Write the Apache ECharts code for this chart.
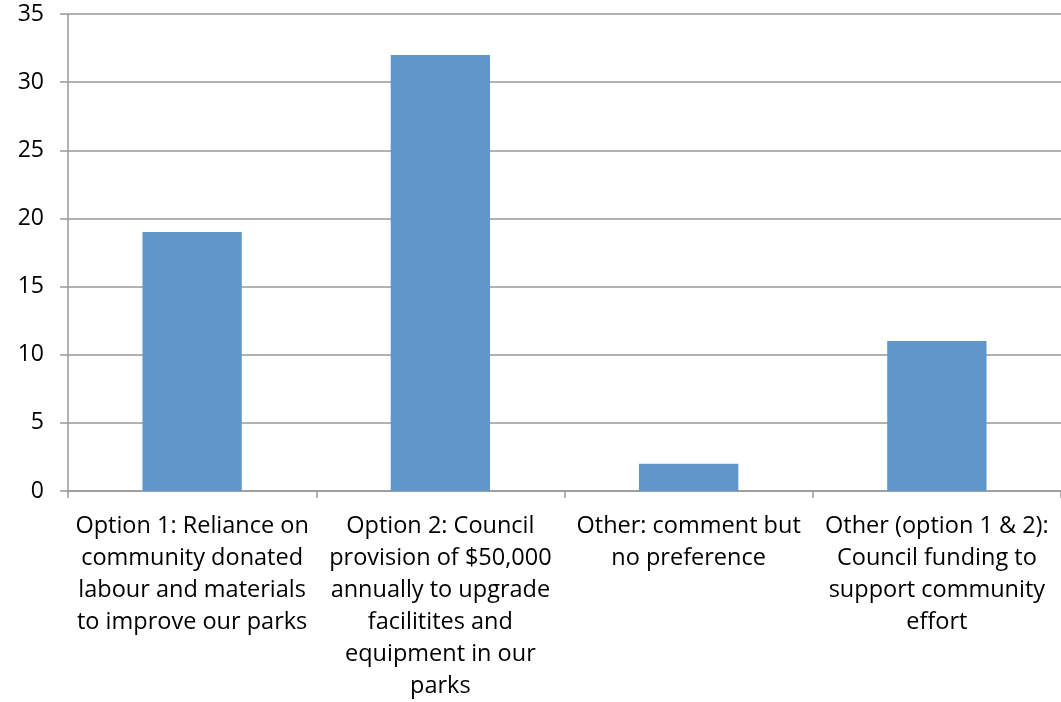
<!DOCTYPE html>
<html>
<head>
<meta charset="utf-8">
<script src="https://cdn.jsdelivr.net/npm/echarts@6/dist/echarts.min.js"></script>
<style>
  html, body { margin: 0; padding: 0; background: #fff; }
  #chart { width: 1061px; height: 702px; }
</style>
</head>
<body>
<div id="chart"></div>
<script>
// categories as wrapped in the original chart
const categories = [
  "Option 1: Reliance on\ncommunity donated\nlabour and materials\nto improve our parks",
  "Option 2: Council\nprovision of $50,000\nannually to upgrade\nfacilitites and\nequipment in our\nparks",
  "Other: comment but\nno preference",
  "Other (option 1 & 2):\nCouncil funding to\nsupport community\neffort"
];
const counts = [19, 32, 2, 11];
const yTicks = [0, 5, 10, 15, 20, 25, 30, 35];

const axisGrey = "#999999";
const font = "'Open Sans', 'Liberation Sans', sans-serif";

const chart = echarts.init(document.getElementById("chart"));
chart.setOption({
  animation: false,
  grid: { left: 68, top: 14, bottom: 205, width: 997, containLabel: false },
  xAxis: {
    type: "category",
    data: categories,
    axisLine: { lineStyle: { color: axisGrey, width: 1.5 } },
    axisTick: { show: true, length: 7, lineStyle: { color: axisGrey, width: 1.5 } },
    axisLabel: {
      interval: 0,
      color: "#000",
      fontFamily: font,
      fontSize: 23.5,
      lineHeight: 32,
      margin: 19,
      align: "center"
    }
  },
  yAxis: {
    type: "value",
    min: yTicks[0],
    max: yTicks[yTicks.length - 1],
    interval: 5,
    axisLine: { show: true, lineStyle: { color: axisGrey, width: 1.5 } },
    axisTick: { show: true, length: 8, lineStyle: { color: axisGrey, width: 1.5 } },
    splitLine: { lineStyle: { color: axisGrey, width: 1.5 } },
    axisLabel: { color: "#000", fontFamily: font, fontSize: 23, margin: 24 }
  },
  series: [{
    type: "bar",
    data: counts,
    barWidth: "40%",
    itemStyle: { color: "#6196C8" }
  }]
});
</script>
</body>
</html>
